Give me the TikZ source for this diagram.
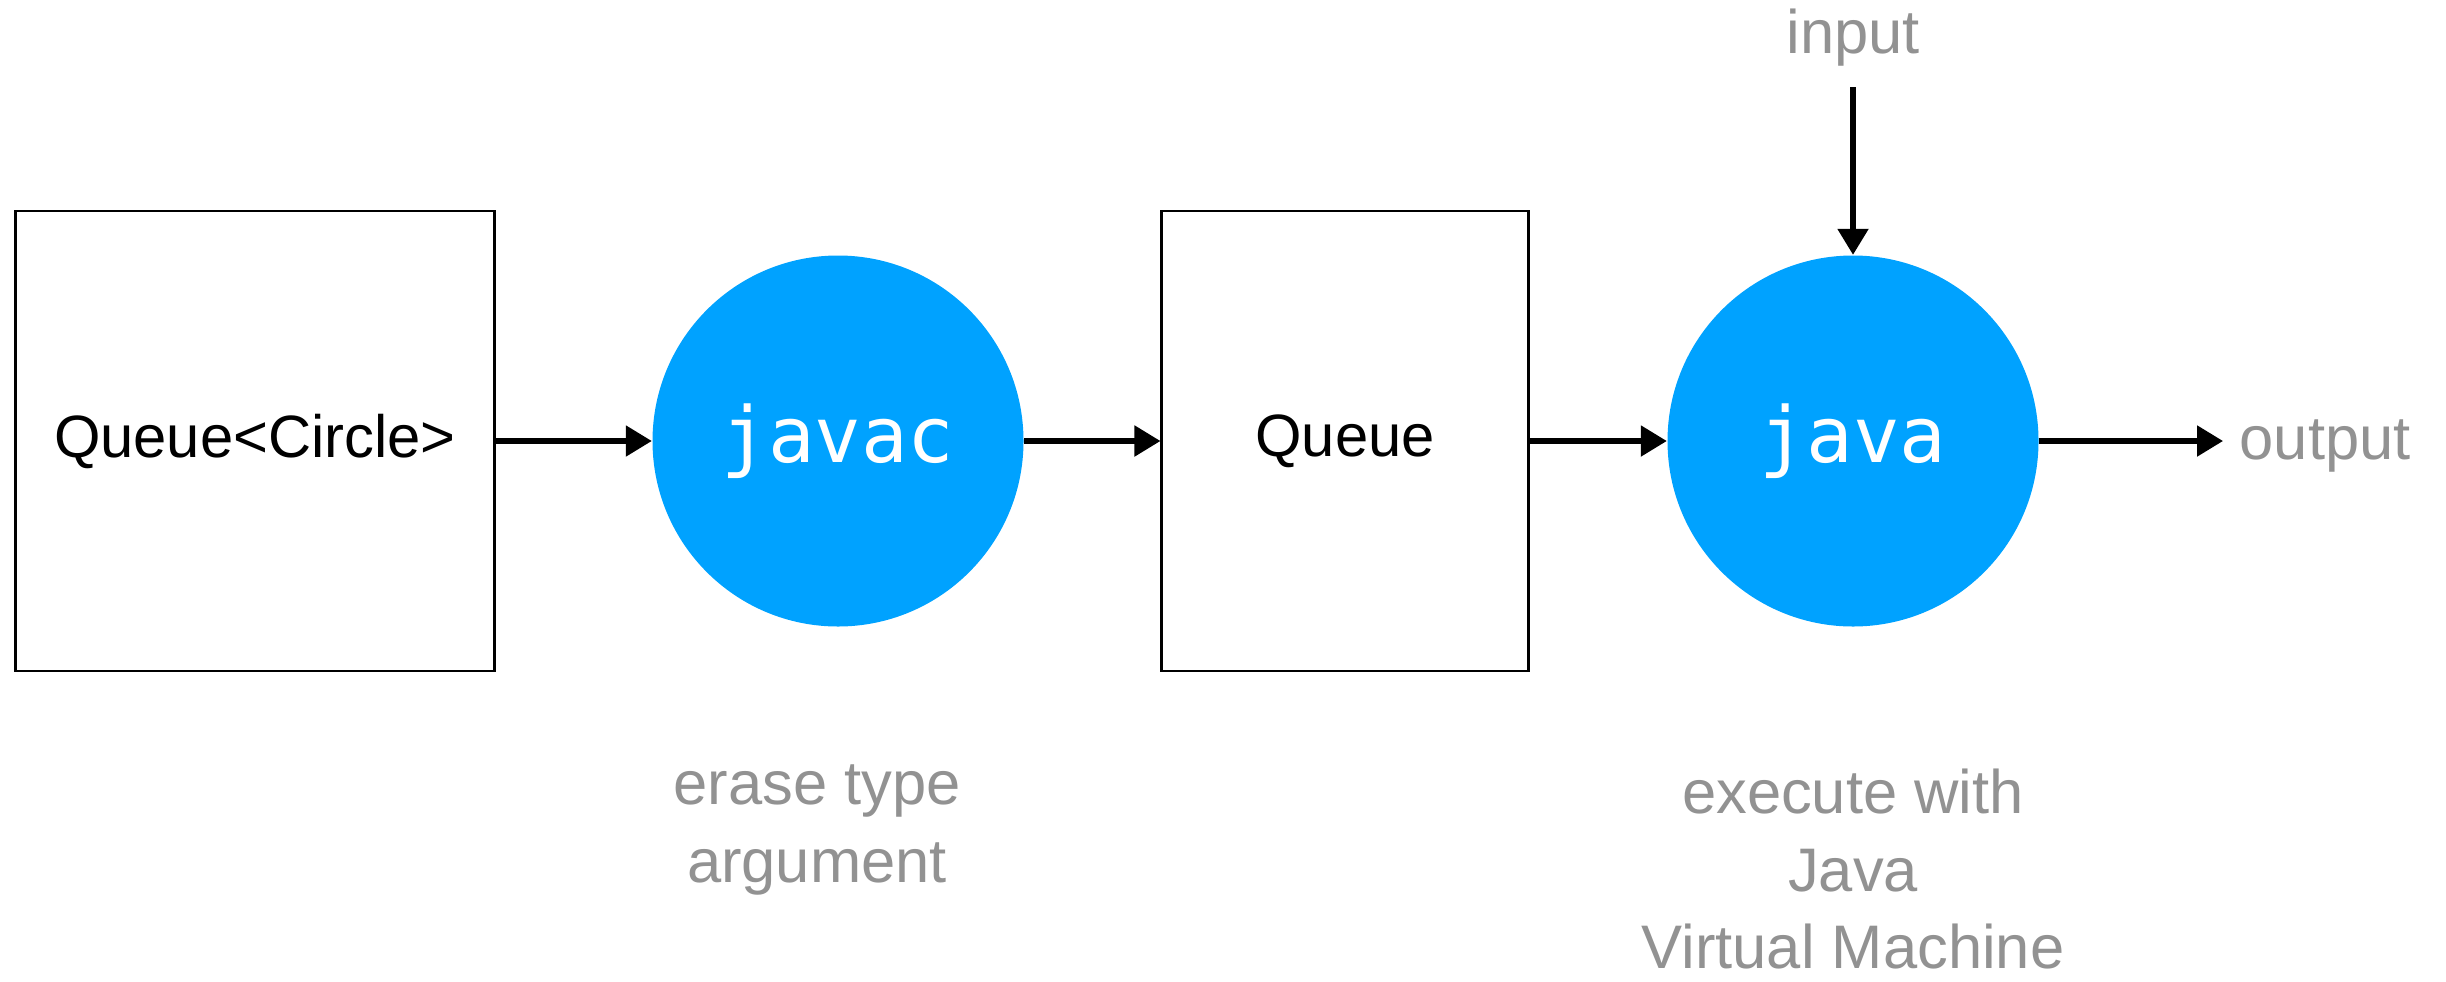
\documentclass[tikz,border=0pt]{standalone}
\usepackage{fontspec}
\setmainfont{Liberation Sans}
\newfontfamily\codefont{DejaVu Sans Mono}
\usetikzlibrary{arrows.meta}

\definecolor{toolblue}{HTML}{00A2FF}
\definecolor{notegray}{HTML}{929292}

\begin{document}
\begin{tikzpicture}[
    stage/.style={rectangle, draw=black, line width=0.6pt, fill=white,
        minimum height=4.60cm, inner sep=0pt,
        font=\fontsize{17}{21}\selectfont},
    tool/.style={circle, fill=toolblue, minimum size=3.71cm, inner sep=0pt,
        text=white, font=\codefont\fontsize{22}{26}\selectfont},
    note/.style={text=notegray, align=center, inner sep=0pt,
        font=\fontsize{17.5}{22}\selectfont},
    flow/.style={line width=1.5pt, -{Triangle[length=0.26cm, width=0.3cm]}}
]
    \useasboundingbox (0,0) rectangle (24.46,-9.81);

    \node[stage, minimum width=4.79cm] (generic) at (2.55,-4.41) {Queue<Circle>};
    \node[tool] (javac) at (8.38,-4.41) {javac};
    \node[stage, minimum width=3.67cm] (raw) at (13.45,-4.41) {Queue};
    \node[tool] (java) at (18.53,-4.41) {java};

    \node[note] (input) at (18.53,-0.38) {input};
    \node[note, anchor=west] (output) at (22.39,-4.46) {output};

    \node[note] (erase) at (8.17,-8.30) {erase type\\argument};
    \node[note] (exec) at (18.53,-8.69) {execute with\\Java\\Virtual Machine};

    \draw[flow] (generic) -- (javac);
    \draw[flow] (javac) -- (raw);
    \draw[flow] (raw) -- (java);
    \draw[flow] (java.east) -- ([xshift=-0.16cm]output.west |- java.east);
    \draw[flow, shorten <=0.2cm] (input.south) -- (java.north);
\end{tikzpicture}
\end{document}
